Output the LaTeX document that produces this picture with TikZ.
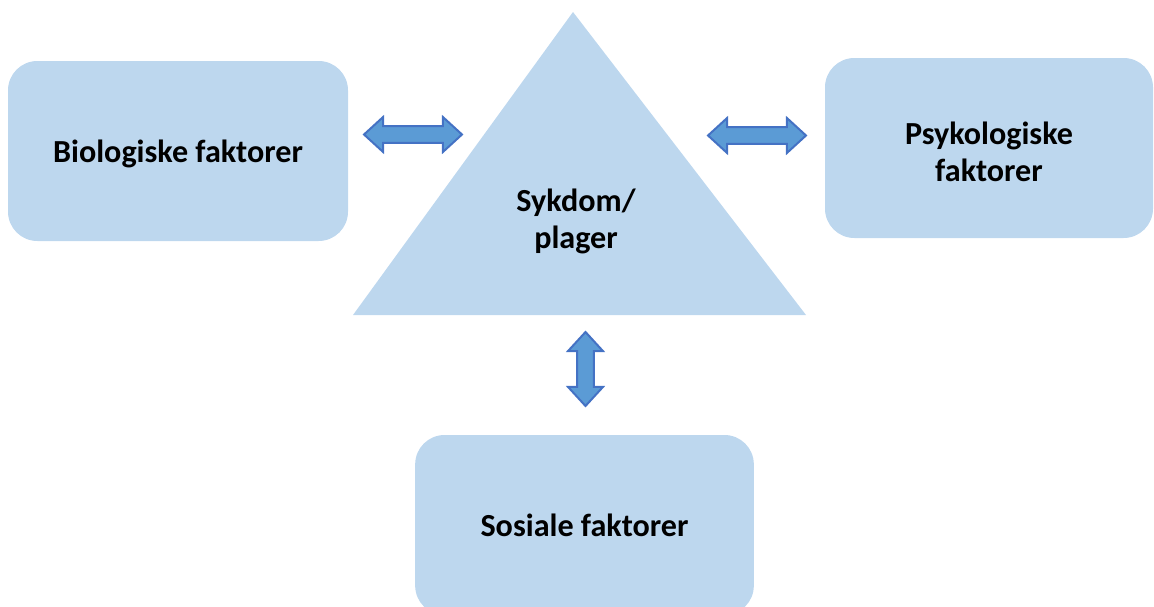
\documentclass[tikz,border=0pt]{standalone}
\usepackage{fontspec}
\setmainfont{Carlito}
\usetikzlibrary{shapes.arrows,positioning}
\definecolor{boxblue}{HTML}{BDD7EE}
\definecolor{arrowblue}{HTML}{5B9BD5}
\definecolor{arrowedge}{HTML}{4472C4}
\newcommand{\factorfont}{\fontsize{24.1}{27.75}\selectfont\bfseries}

\begin{document}
\begin{tikzpicture}[x=0.75pt,y=-0.75pt,
    factor/.style={fill=boxblue,rounded corners=22pt,minimum width=255pt,minimum height=135pt,
                   align=center,font=\factorfont,text depth=0pt},
    link/.style={double arrow,draw=arrowedge,fill=arrowblue,line width=1.5pt,inner xsep=0pt,
                 inner ysep=5.6pt,double arrow head extend=6.75pt,double arrow tip angle=85,
                 minimum height=73.5pt}]
\useasboundingbox (0,0) rectangle (1154,607);
\node[factor] (bio) at (178,151) {Biologiske faktorer};
\node[factor,minimum width=246pt] (psyk) at (989,148) {\rule{0pt}{23pt}Psykologiske\\faktorer};
\node[factor,minimum width=254pt] (sos) at (584.5,525) {Sosiale faktorer};
% triangle in the middle
\coordinate (apex) at (573,12);
\coordinate (baseR) at (806,315);
\coordinate (baseL) at (353,315);
\fill[boxblue] (apex) -- (baseR) -- (baseL) -- cycle;
\node[align=center,font=\factorfont] (syk) at (576,221) {Sykdom/\\plager};
% block arrows
\node[link] (bio2syk) at (413,134.5) {};
\node[link] (syk2psyk) at (757,135.5) {};
\node[link,rotate=90,minimum height=55.5pt] (syk2sos) at (585.5,369) {};
\end{tikzpicture}
\end{document}
